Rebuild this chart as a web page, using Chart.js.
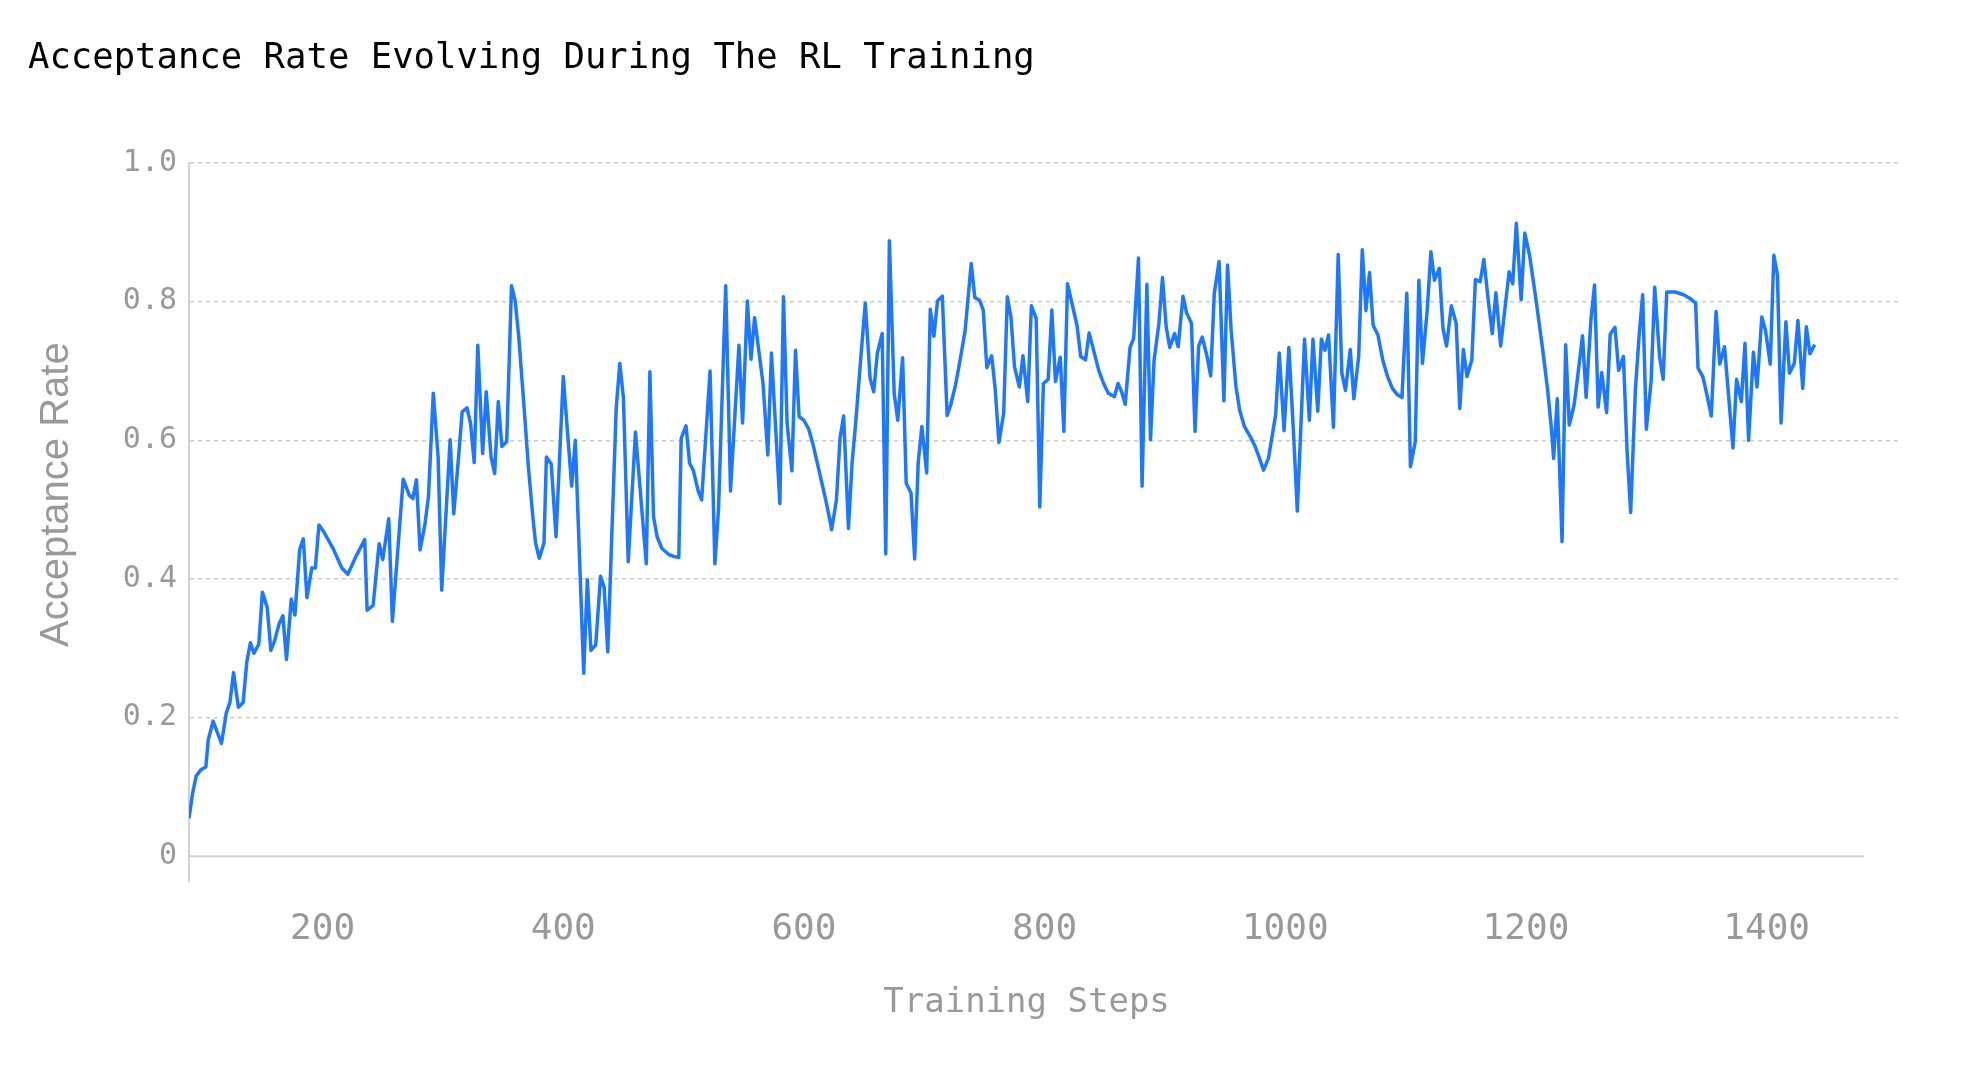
<!DOCTYPE html>
<html>
<head>
<meta charset="utf-8">
<title>Acceptance Rate Evolving During The RL Training</title>
<script src="https://cdn.jsdelivr.net/npm/chart.js@4.4.1/dist/chart.umd.min.js"></script>
<style>
  html, body { margin: 0; padding: 0; background: #fff; overflow: hidden; }
  #wrap { width: 1975px; height: 1079px; position: relative; }
</style>
</head>
<body>
<div id="wrap"><canvas id="chart"></canvas></div>
<script>
(function () {
    'use strict';

    // -----------------------------------------------------------------------
    // Data
    // -----------------------------------------------------------------------
    const TITLE   = 'Acceptance Rate Evolving During The RL Training';
    const X_LABEL = 'Training Steps';
    const Y_LABEL = 'Acceptance Rate';

    const X_TICKS = [200, 400, 600, 800, 1000, 1200, 1400];
    const Y_TICKS = [0, 0.2, 0.4, 0.6, 0.8, 1.0];

    const STEPS = [
        89, 92, 95, 99, 103, 105, 109, 116, 120, 123, 126, 130, 134, 137, 140, 143, 147, 150, 154, 157,
        160, 164, 167, 170, 174, 177, 181, 184, 187, 191, 194, 197, 201, 209, 216, 221, 227, 235, 237, 242,
        247, 250, 255, 258, 267, 272, 275, 278, 281, 285, 288, 292, 296, 299, 306, 309, 313, 316, 320, 323,
        326, 329, 333, 336, 340, 343, 346, 349, 353, 357, 360, 363, 367, 371, 375, 377, 380, 384, 386, 390,
        394, 400, 407, 410, 417, 420, 423, 427, 431, 434, 437, 444, 447, 450, 454, 460, 469, 472, 475, 478,
        482, 488, 493, 496, 498, 502, 505, 508, 512, 515, 522, 526, 529, 535, 539, 546, 549, 553, 556, 559,
        566, 570, 573, 580, 583, 586, 590, 593, 596, 600, 604, 608, 613, 618, 621, 623, 627, 630, 633, 637,
        640, 643, 648, 651, 655, 658, 661, 665, 668, 671, 675, 678, 682, 685, 689, 692, 695, 698, 702, 705,
        708, 711, 715, 719, 722, 726, 730, 734, 739, 742, 746, 749, 752, 756, 759, 762, 766, 769, 772, 775,
        779, 782, 786, 789, 793, 796, 799, 803, 806, 809, 813, 816, 819, 824, 827, 830, 834, 837, 841, 845,
        849, 853, 858, 861, 864, 867, 871, 874, 878, 881, 885, 888, 891, 895, 898, 901, 904, 908, 911, 915,
        918, 922, 925, 928, 931, 935, 938, 941, 945, 949, 952, 955, 959, 962, 966, 971, 975, 978, 982, 986,
        992, 995, 999, 1003, 1007, 1010, 1016, 1020, 1023, 1027, 1030, 1033, 1036, 1040, 1044, 1047, 1050, 1054, 1057, 1061,
        1064, 1067, 1070, 1073, 1077, 1081, 1085, 1089, 1093, 1097, 1101, 1104, 1108, 1111, 1114, 1118, 1121, 1124, 1128, 1131,
        1134, 1138, 1142, 1145, 1148, 1151, 1155, 1158, 1162, 1165, 1169, 1172, 1175, 1179, 1186, 1189, 1192, 1196, 1199, 1203,
        1208, 1214, 1218, 1221, 1223, 1226, 1230, 1233, 1236, 1240, 1243, 1247, 1250, 1254, 1257, 1260, 1263, 1267, 1270, 1274,
        1277, 1281, 1284, 1287, 1291, 1294, 1297, 1300, 1304, 1307, 1311, 1314, 1317, 1324, 1331, 1336, 1341, 1343, 1347, 1351,
        1354, 1358, 1361, 1365, 1372, 1375, 1379, 1382, 1385, 1389, 1392, 1396, 1399, 1403, 1406, 1409, 1412, 1416, 1419, 1423,
        1426, 1430, 1433, 1436, 1440
    ];

    const RATES = [
        0.055, 0.091, 0.116, 0.125, 0.129, 0.168, 0.195, 0.163, 0.207, 0.222, 0.265, 0.215, 0.222, 0.280, 0.308, 0.293, 0.306, 0.381, 0.359, 0.297,
        0.310, 0.336, 0.347, 0.284, 0.371, 0.348, 0.443, 0.458, 0.373, 0.416, 0.416, 0.478, 0.468, 0.443, 0.416, 0.407, 0.430, 0.457, 0.355, 0.362,
        0.451, 0.428, 0.487, 0.339, 0.544, 0.521, 0.516, 0.543, 0.442, 0.478, 0.519, 0.668, 0.576, 0.384, 0.601, 0.494, 0.576, 0.641, 0.647, 0.624,
        0.568, 0.737, 0.581, 0.670, 0.576, 0.552, 0.656, 0.591, 0.598, 0.823, 0.802, 0.750, 0.658, 0.562, 0.485, 0.452, 0.430, 0.452, 0.576, 0.566,
        0.461, 0.692, 0.534, 0.600, 0.264, 0.399, 0.297, 0.305, 0.404, 0.388, 0.295, 0.646, 0.711, 0.661, 0.425, 0.612, 0.422, 0.699, 0.490, 0.461,
        0.444, 0.435, 0.432, 0.431, 0.603, 0.621, 0.567, 0.557, 0.528, 0.514, 0.700, 0.422, 0.500, 0.823, 0.527, 0.737, 0.625, 0.801, 0.717, 0.777,
        0.682, 0.579, 0.726, 0.509, 0.807, 0.625, 0.556, 0.730, 0.634, 0.629, 0.616, 0.591, 0.553, 0.515, 0.490, 0.471, 0.514, 0.603, 0.635, 0.473,
        0.567, 0.625, 0.735, 0.798, 0.689, 0.670, 0.726, 0.754, 0.436, 0.888, 0.668, 0.629, 0.719, 0.538, 0.524, 0.429, 0.569, 0.620, 0.553, 0.789,
        0.750, 0.801, 0.808, 0.636, 0.651, 0.680, 0.718, 0.759, 0.855, 0.806, 0.802, 0.788, 0.705, 0.722, 0.673, 0.597, 0.639, 0.807, 0.778, 0.706,
        0.677, 0.722, 0.656, 0.794, 0.776, 0.504, 0.682, 0.688, 0.788, 0.685, 0.720, 0.613, 0.826, 0.788, 0.765, 0.721, 0.716, 0.755, 0.728, 0.701,
        0.682, 0.668, 0.663, 0.682, 0.670, 0.652, 0.734, 0.747, 0.863, 0.534, 0.825, 0.601, 0.716, 0.769, 0.835, 0.764, 0.734, 0.754, 0.735, 0.808,
        0.784, 0.769, 0.613, 0.736, 0.749, 0.721, 0.693, 0.812, 0.858, 0.657, 0.853, 0.759, 0.678, 0.644, 0.620, 0.605, 0.591, 0.577, 0.557, 0.574,
        0.637, 0.726, 0.614, 0.734, 0.605, 0.498, 0.746, 0.629, 0.746, 0.642, 0.746, 0.730, 0.752, 0.619, 0.868, 0.697, 0.672, 0.731, 0.660, 0.721,
        0.875, 0.787, 0.842, 0.766, 0.752, 0.716, 0.692, 0.675, 0.666, 0.662, 0.812, 0.562, 0.598, 0.831, 0.711, 0.789, 0.872, 0.831, 0.848, 0.762,
        0.736, 0.794, 0.769, 0.646, 0.731, 0.692, 0.716, 0.832, 0.829, 0.861, 0.797, 0.754, 0.813, 0.736, 0.843, 0.826, 0.913, 0.803, 0.899, 0.867,
        0.807, 0.730, 0.673, 0.620, 0.574, 0.660, 0.454, 0.738, 0.622, 0.651, 0.692, 0.751, 0.662, 0.774, 0.824, 0.648, 0.698, 0.640, 0.753, 0.763,
        0.701, 0.721, 0.586, 0.496, 0.675, 0.750, 0.810, 0.616, 0.685, 0.821, 0.721, 0.688, 0.814, 0.814, 0.810, 0.805, 0.798, 0.704, 0.692, 0.661,
        0.635, 0.786, 0.710, 0.735, 0.589, 0.688, 0.656, 0.740, 0.600, 0.727, 0.677, 0.778, 0.759, 0.710, 0.867, 0.838, 0.625, 0.771, 0.697, 0.711,
        0.773, 0.675, 0.764, 0.725, 0.738
    ];

    // Axis extents
    const X_MIN = 89;
    const X_MAX = 1510;
    const X_AXIS_END = 1481;   // the solid baseline stops short of the grid
    const Y_MIN = -0.037;
    const Y_MAX = 1.0;

    // -----------------------------------------------------------------------
    // Style
    // -----------------------------------------------------------------------
    const LINE_COLOR = '#1e78ff';
    const GRID_COLOR = '#cccccc';
    const AXIS_COLOR = '#d2d2d2';
    const TEXT_GRAY  = '#999999';
    const MONO = '"DejaVu Sans Mono", "Liberation Mono", monospace';
    const SANS = '"Liberation Sans", Arial, sans-serif';

    // -----------------------------------------------------------------------
    // Plugins: solid zero baseline and the two axis captions
    // -----------------------------------------------------------------------
    const baselinePlugin = {
        id: 'baseline',
        beforeDatasetsDraw: function (chart) {
            const ctx = chart.ctx;
            const xs = chart.scales.x;
            const ys = chart.scales.y;
            const y0 = ys.getPixelForValue(0);
            ctx.save();
            ctx.strokeStyle = AXIS_COLOR;
            ctx.lineWidth = 2;
            ctx.beginPath();
            ctx.moveTo(chart.chartArea.left, y0);
            ctx.lineTo(xs.getPixelForValue(X_AXIS_END), y0);
            ctx.stroke();
            ctx.restore();
        }
    };

    const captionPlugin = {
        id: 'captions',
        afterDraw: function (chart) {
            const ctx = chart.ctx;
            const xs = chart.scales.x;
            const ys = chart.scales.y;
            ctx.save();
            ctx.fillStyle = TEXT_GRAY;
            ctx.textAlign = 'center';
            ctx.textBaseline = 'middle';

            // x caption, centred under the solid baseline
            const xMid = (chart.chartArea.left + xs.getPixelForValue(X_AXIS_END)) / 2;
            ctx.font = '34px ' + MONO;
            ctx.fillText(X_LABEL, xMid, xs.bottom - 76);

            // y caption, rotated
            const yMid = (ys.getPixelForValue(Y_MAX) + ys.getPixelForValue(0)) / 2 - 15;
            ctx.translate(57, yMid);
            ctx.rotate(-Math.PI / 2);
            ctx.font = '40px ' + SANS;
            ctx.fillText(Y_LABEL, 0, 0);
            ctx.restore();
        }
    };

    // -----------------------------------------------------------------------
    // Chart
    // -----------------------------------------------------------------------
    const points = STEPS.map(function (s, i) { return { x: s, y: RATES[i] }; });

    new Chart(document.getElementById('chart'), {
        type: 'line',
        data: {
            datasets: [{
                label: Y_LABEL,
                data: points,
                borderColor: LINE_COLOR,
                borderWidth: 3.5,
                borderJoinStyle: 'round',
                pointRadius: 0,
                tension: 0,
                fill: false,
            }],
        },
        plugins: [baselinePlugin, captionPlugin],
        options: {
            responsive: true,
            maintainAspectRatio: false,
            animation: false,
            layout: { padding: { left: 28, right: 76, top: 0, bottom: 0 } },
            plugins: {
                legend: { display: false },
                tooltip: { enabled: false },
                title: {
                    display: true,
                    text: TITLE,
                    align: 'start',
                    color: '#000000',
                    font: { family: MONO, size: 35.6, weight: 'normal' },
                    padding: { top: 37, bottom: 83.3 },
                },
            },
            scales: {
                x: {
                    type: 'linear',
                    min: X_MIN,
                    max: X_MAX,
                    afterBuildTicks: function (s) {
                        s.ticks = X_TICKS.map(function (v) { return { value: v }; });
                    },
                    afterFit: function (s) { s.height = 197; },
                    grid: { display: false, drawTicks: false },
                    border: { display: false },
                    ticks: {
                        color: TEXT_GRAY,
                        font: { family: MONO, size: 36 },
                        padding: 26,
                        maxRotation: 0,
                        autoSkip: false,
                        callback: function (v) { return String(v); },
                    },
                },
                y: {
                    min: Y_MIN,
                    max: Y_MAX,
                    afterBuildTicks: function (s) {
                        s.ticks = Y_TICKS.map(function (v) { return { value: v }; });
                    },
                    afterFit: function (s) { s.width = 161; },
                    grid: {
                        drawTicks: false,
                        lineWidth: 1.5,
                        color: function (c) {
                            return c.tick && c.tick.value === 0 ? 'rgba(0,0,0,0)' : GRID_COLOR;
                        },
                    },
                    border: { display: true, color: AXIS_COLOR, width: 2, dash: [4, 4] },
                    ticks: {
                        color: TEXT_GRAY,
                        font: { family: MONO, size: 30 },
                        padding: 12,
                        callback: function (v) { return v === 0 ? '0' : v.toFixed(1); },
                    },
                },
            },
        },
    });
})();
</script>
</body>
</html>
